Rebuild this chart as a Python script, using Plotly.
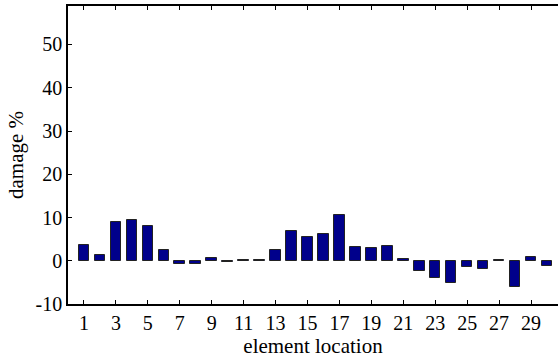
import plotly.graph_objects as go

elements = list(range(1, 31))
damage = [3.7, 1.4, 9.0, 9.4, 8.1, 2.6, -0.7, -0.7, 0.6, -0.3,
          0.1, 0.1, 2.6, 6.8, 5.4, 6.1, 10.5, 3.2, 3.0, 3.5,
          0.3, -2.3, -4.0, -5.2, -1.5, -1.9, 0.2, -6.0, 0.8, -1.2]
xticks = list(range(1, 31, 2))
yticks = [-10, 0, 10, 20, 30, 40, 50]

fig = go.Figure(go.Bar(
    x=elements, y=damage, width=0.66,
    marker=dict(color="#00008B", line=dict(color="#222222", width=1)),
))

fam = "Liberation Serif, Times New Roman, serif"
tickfont = dict(family=fam, size=20, color="black")
titlefont = dict(family=fam, size=21, color="black")

fig.update_layout(
    width=558, height=363,
    margin=dict(l=68, r=0, t=6, b=59),
    plot_bgcolor="white", paper_bgcolor="white",
    font=tickfont, showlegend=False,
    bargap=0,
)
fig.update_xaxes(
    range=[0, 30.69], tickvals=xticks, ticktext=[str(v) for v in xticks],
    ticks="inside", ticklen=4, tickcolor="black", tickwidth=1,
    showline=True, linecolor="black", linewidth=1.5, mirror="ticks",
    showgrid=False, zeroline=False, tickfont=tickfont,
    title=dict(text="element location", standoff=5, font=titlefont),
)
fig.update_yaxes(
    range=[-10, 58.9], tickvals=yticks, ticktext=[str(v) for v in yticks],
    ticks="inside", ticklen=4, tickcolor="black", tickwidth=1,
    showline=True, linecolor="black", linewidth=1.5, mirror=False,
    showgrid=False, zeroline=False, tickfont=tickfont,
    title=dict(text="damage %", standoff=6, font=titlefont),
)

fig.write_html("out.html", config={"displayModeBar": False},
               post_script="document.body.style.margin='0';document.body.style.overflow='hidden';")
